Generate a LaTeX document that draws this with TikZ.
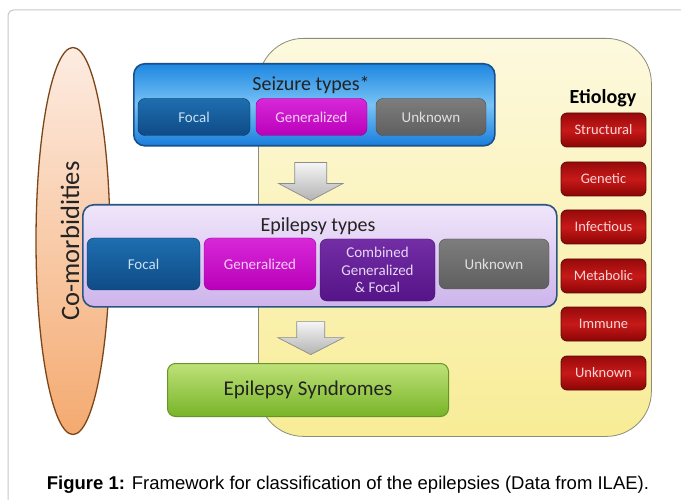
\documentclass[tikz,border=0pt]{standalone}
\usepackage{fontspec}
\setmainfont{Carlito}
\newfontfamily\capfont{Liberation Sans}
\usetikzlibrary{shapes.geometric,calc}
\definecolor{framegray}{RGB}{200,200,200}
\definecolor{etioedge}{RGB}{140,140,120}
\definecolor{etiotop}{RGB}{253,249,222}
\definecolor{etiobot}{RGB}{248,236,150}
\definecolor{comoedge}{RGB}{125,70,25}
\definecolor{comotop}{RGB}{253,236,226}
\definecolor{comobot}{RGB}{244,170,112}
\definecolor{seizedge}{RGB}{25,80,140}
\definecolor{seiztop}{RGB}{30,135,225}
\definecolor{seizmid}{RGB}{120,195,245}
\definecolor{seizbot}{RGB}{25,125,220}
\definecolor{epiedge}{RGB}{40,85,130}
\definecolor{epitop}{RGB}{240,230,250}
\definecolor{epibot}{RGB}{205,180,235}
\definecolor{focaltop}{RGB}{30,110,175}
\definecolor{focalbot}{RGB}{15,75,135}
\definecolor{gentop}{RGB}{215,40,215}
\definecolor{genbot}{RGB}{185,0,185}
\definecolor{unktop}{RGB}{125,125,125}
\definecolor{unkbot}{RGB}{95,95,95}
\definecolor{combtop}{RGB}{115,45,165}
\definecolor{combbot}{RGB}{85,20,135}
\definecolor{syntop}{RGB}{190,225,120}
\definecolor{synbot}{RGB}{120,180,40}
\definecolor{synedge}{RGB}{100,150,40}
\definecolor{redtop}{RGB}{150,10,10}
\definecolor{redmid}{RGB}{200,25,25}
\definecolor{redbot}{RGB}{140,5,5}
\definecolor{rededge}{RGB}{90,10,10}
\definecolor{arrowedge}{RGB}{140,140,140}
\tikzset{
  etiobg/.style={draw=etioedge, line width=0.8pt, rounded corners=45pt, top color=etiotop, bottom color=etiobot},
  comobox/.style={ellipse, draw=comoedge, line width=1.3pt, top color=comotop, bottom color=comobot, inner sep=0pt},
  groupbox/.style={rounded corners=11pt, line width=1.6pt},
  subbox/.style={rounded corners=7pt, minimum height=37pt, inner sep=0pt, align=center, font=\fontsize{15}{17.5}\selectfont},
  focalbox/.style={subbox, draw=focalbot!70!black, top color=focaltop, bottom color=focalbot, text={rgb,255:red,200;green,225;blue,245}},
  genbox/.style={subbox, draw=genbot!80!black, top color=gentop, bottom color=genbot, text={rgb,255:red,250;green,205;blue,250}},
  unkbox/.style={subbox, draw=unkbot!80!black, top color=unktop, bottom color=unkbot, text={rgb,255:red,225;green,225;blue,225}},
  combbox/.style={subbox, draw=combbot!80!black, top color=combtop, bottom color=combbot, text={rgb,255:red,230;green,215;blue,245}},
  redbox/.style={rounded corners=6pt, draw=rededge, line width=0.8pt, top color=redtop, bottom color=redbot, middle color=redmid,
     minimum width=85pt, minimum height=34pt, inner sep=0pt, text={rgb,255:red,245;green,215;blue,215}, font=\fontsize{14.5}{16}\selectfont},
  blockarr/.style={draw=arrowedge, line width=0.7pt, top color=gray!8, bottom color=gray!60, line join=miter},
  titletext/.style={text={rgb,255:red,35;green,35;blue,35}, font=\fontsize{20}{22}\selectfont, inner sep=0pt}
}
\begin{document}
\begin{tikzpicture}[x=1pt,y=-1pt]
\useasboundingbox (0,0) rectangle (681,500);
\clip (0,0) rectangle (681,500);
\fill[white] (0,0) rectangle (681,500);
\draw[framegray, line width=1pt, rounded corners=6pt] (8,10) rectangle (720,540);

% etiology background
\node[etiobg, minimum width=393pt, minimum height=398pt, anchor=north west] (etbg) at (258,38) {};

% co-morbidities ellipse
\node[comobox, minimum width=74pt, minimum height=387pt] (como) at (73,241) {};
\node[rotate=90, titletext, font=\fontsize{26.5}{28}\selectfont] (comotext) at (70,241) {Co-morbidities};

% seizure types
\node[groupbox, draw=seizedge, top color=seiztop, bottom color=seizbot, middle color=seizmid,
      minimum width=361pt, minimum height=82pt, anchor=north west] (seiz) at (133,63) {};
\node[titletext] (seiztitle) at (311,85) {Seizure types*};
\node[focalbox, minimum width=112pt] (sfocal) at (194,117) {Focal};
\node[genbox, minimum width=111pt] (sgen) at (311.5,117) {Generalized};
\node[unkbox, minimum width=110pt] (sunk) at (431,117) {Unknown};

% epilepsy types
\node[groupbox, draw=epiedge, top color=epitop, bottom color=epibot,
      minimum width=474pt, minimum height=102pt, anchor=north west] (epi) at (82,204) {};
\node[titletext] (epititle) at (318,226) {Epilepsy types};
\node[focalbox, minimum width=113pt, minimum height=52pt] (efocal) at (143.5,264) {Focal};
\node[genbox, minimum width=112pt, minimum height=52pt] (egen) at (260,264) {Generalized};
\node[combbox, minimum width=115pt, minimum height=62pt] (ecomb) at (377.5,270) {Combined\\Generalized\\\& Focal};
\node[unkbox, minimum width=110pt, minimum height=50pt] (eunk) at (494,264) {Unknown};

% arrow 1 (seizure types -> epilepsy types)
\coordinate (a1) at ($(seiz.south)+(-3.5,16)$);
\draw[blockarr] (a1) ++(-16,0) -- ++(0,21) -- ++(-16,0) -- ++(32,17) -- ++(32,-17) -- ++(-16,0) -- ++(0,-21) -- cycle;

% arrow 2 (epilepsy types -> syndromes)
\coordinate (a2) at ($(epi.south)+(-9,14)$);
\draw[blockarr] (a2) ++(-14,0) -- ++(0,16) -- ++(-19,0) -- ++(33,17) -- ++(33,-17) -- ++(-19,0) -- ++(0,-16) -- cycle;

% epilepsy syndromes
\node[rounded corners=8pt, draw=synedge, line width=1pt, top color=syntop, bottom color=synbot,
      minimum width=281pt, minimum height=53pt, anchor=north west] (syn) at (167,363) {};
\node[titletext, font=\fontsize{21}{23}\selectfont] (syntext) at (syn.center) {Epilepsy Syndromes};

% etiology
\node[text=black, font=\bfseries\fontsize{20}{22}\selectfont, inner sep=0pt] (etio) at (603,98) {Etiology};
\node[redbox] (structural) at (603.5,130) {Structural};
\node[redbox] (genetic) at (603.5,179) {Genetic};
\node[redbox] (infectious) at (603.5,227) {Infectious};
\node[redbox] (metabolic) at (603.5,276) {Metabolic};
\node[redbox] (immune) at (603.5,324) {Immune};
\node[redbox] (eunknown) at (603.5,373) {Unknown};

% caption
\node[font=\capfont\fontsize{18.5}{20}\selectfont, text=black, inner sep=0pt] (caption) at (348,485)
   {\textbf{Figure 1:} Framework for classification of the epilepsies (Data from ILAE).};
\end{tikzpicture}
\end{document}
